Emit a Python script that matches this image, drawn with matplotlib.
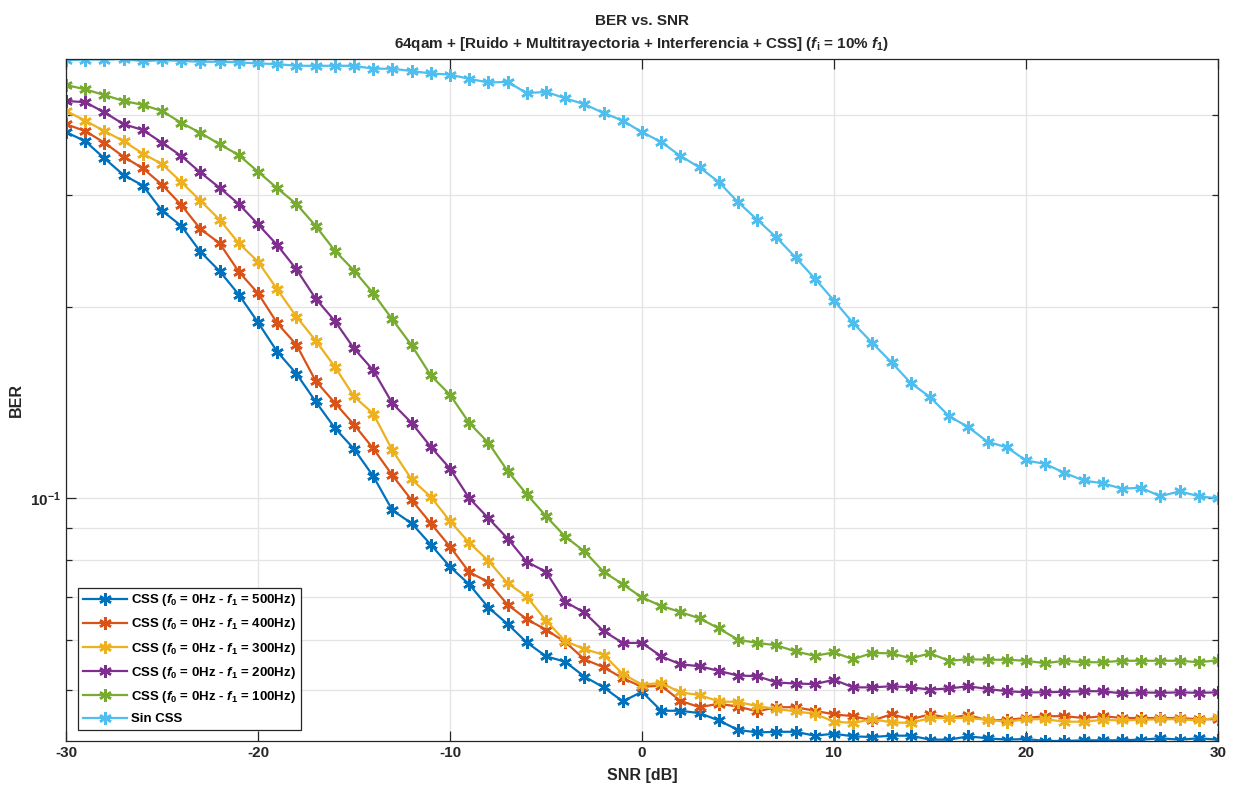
import matplotlib.pyplot as plt
import numpy as np
from matplotlib.ticker import FixedLocator, NullFormatter

plt.rcParams['font.family'] = ['Liberation Sans', 'DejaVu Sans']
plt.rcParams['font.weight'] = 'bold'
plt.rcParams['axes.unicode_minus'] = False
plt.rcParams['mathtext.fontset'] = 'custom'
plt.rcParams['mathtext.rm'] = 'Liberation Sans:bold'
plt.rcParams['mathtext.it'] = 'Liberation Sans:italic:bold'
plt.rcParams['mathtext.bf'] = 'Liberation Sans:bold'

# SNR axis
snr = np.arange(-30, 31)

# BER curves
ber_500 = [0.376, 0.364, 0.342, 0.322, 0.310, 0.283, 0.268, 0.244, 0.2275, 0.209,
           0.189, 0.170, 0.157, 0.142, 0.129, 0.1196, 0.1084, 0.0958, 0.0914, 0.0846,
           0.0781, 0.0733, 0.0674, 0.0635, 0.0594, 0.0565, 0.0554, 0.0525, 0.0505, 0.0480,
           0.0497, 0.0464, 0.0464, 0.0460, 0.0448, 0.0433, 0.0429, 0.0430, 0.0430, 0.0424,
           0.0427, 0.0423, 0.0422, 0.0424, 0.0424, 0.0418, 0.0418, 0.0423, 0.0420, 0.0418,
           0.0419, 0.0416, 0.0416, 0.0417, 0.0417, 0.0417, 0.0418, 0.0420, 0.0418, 0.0420,
           0.0418]
ber_400 = [0.387, 0.3775, 0.362, 0.344, 0.330, 0.311, 0.289, 0.265, 0.2516, 0.227,
           0.210, 0.1885, 0.1743, 0.153, 0.1413, 0.1306, 0.1198, 0.1087, 0.0994, 0.0914,
           0.0840, 0.0766, 0.0739, 0.0681, 0.0646, 0.0622, 0.0595, 0.0559, 0.0543, 0.0522,
           0.0506, 0.0508, 0.0481, 0.0470, 0.0476, 0.0471, 0.0463, 0.0470, 0.0470, 0.0464,
           0.0458, 0.0455, 0.0448, 0.0458, 0.0450, 0.0458, 0.0452, 0.0457, 0.0448, 0.0449,
           0.0452, 0.0455, 0.0455, 0.0452, 0.0455, 0.0452, 0.0452, 0.0452, 0.0452, 0.0450,
           0.0450]
ber_300 = [0.406, 0.392, 0.3775, 0.364, 0.348, 0.335, 0.314, 0.2935, 0.274, 0.2516,
           0.2355, 0.213, 0.193, 0.177, 0.161, 0.1446, 0.1359, 0.1190, 0.1071, 0.1006,
           0.0921, 0.0852, 0.0798, 0.0736, 0.0701, 0.0643, 0.0597, 0.0580, 0.0568, 0.0530,
           0.0510, 0.0513, 0.0496, 0.0491, 0.0480, 0.0479, 0.0472, 0.0467, 0.0463, 0.0459,
           0.0446, 0.0444, 0.0450, 0.0445, 0.0444, 0.0452, 0.0452, 0.0452, 0.0449, 0.0446,
           0.0450, 0.0450, 0.0446, 0.0446, 0.0449, 0.0448, 0.0449, 0.0450, 0.0450, 0.0448,
           0.0453]
ber_200 = [0.421, 0.419, 0.404, 0.387, 0.379, 0.362, 0.345, 0.325, 0.3075, 0.290,
           0.2695, 0.250, 0.229, 0.206, 0.190, 0.172, 0.159, 0.141, 0.1314, 0.1205,
           0.1114, 0.1001, 0.0931, 0.0865, 0.0795, 0.0767, 0.0688, 0.0662, 0.0619, 0.0593,
           0.0593, 0.0565, 0.0549, 0.0545, 0.0536, 0.0527, 0.0526, 0.0514, 0.0512, 0.0511,
           0.0519, 0.0505, 0.0505, 0.0507, 0.0505, 0.0501, 0.0503, 0.0507, 0.0502, 0.0498,
           0.0496, 0.0496, 0.0497, 0.0498, 0.0498, 0.0494, 0.0496, 0.0495, 0.0496, 0.0495,
           0.0496]
ber_100 = [0.446, 0.439, 0.430, 0.421, 0.415, 0.406, 0.389, 0.375, 0.360, 0.346,
           0.326, 0.307, 0.290, 0.268, 0.245, 0.228, 0.210, 0.191, 0.174, 0.156,
           0.1455, 0.1314, 0.1223, 0.1104, 0.1015, 0.0938, 0.0871, 0.0826, 0.0767, 0.0733,
           0.0699, 0.0678, 0.0663, 0.0648, 0.0625, 0.0600, 0.0593, 0.0588, 0.0575, 0.0566,
           0.0573, 0.0559, 0.0572, 0.0571, 0.0561, 0.0571, 0.0556, 0.0559, 0.0558, 0.0558,
           0.0556, 0.0551, 0.0556, 0.0553, 0.0553, 0.0556, 0.0556, 0.0556, 0.0556, 0.0553,
           0.0557]
ber_sin = [0.488, 0.489, 0.489, 0.490, 0.486, 0.488, 0.4865, 0.485, 0.485, 0.484,
           0.482, 0.481, 0.478, 0.478, 0.478, 0.478, 0.473, 0.473, 0.469, 0.465,
           0.463, 0.456, 0.450, 0.451, 0.433, 0.435, 0.425, 0.416, 0.403, 0.392,
           0.376, 0.363, 0.345, 0.331, 0.314, 0.292, 0.274, 0.257, 0.239, 0.2215,
           0.2045, 0.1885, 0.1754, 0.1635, 0.1518, 0.1443, 0.1346, 0.1294, 0.1227, 0.1203,
           0.1147, 0.1133, 0.1097, 0.1067, 0.1056, 0.1036, 0.1039, 0.1008, 0.1026, 0.1008,
           0.1000]

series = [ber_500, ber_400, ber_300, ber_200, ber_100, ber_sin]
labels = [r'CSS ($f_0$ = 0Hz - $f_1$ = 500Hz)',
          r'CSS ($f_0$ = 0Hz - $f_1$ = 400Hz)',
          r'CSS ($f_0$ = 0Hz - $f_1$ = 300Hz)',
          r'CSS ($f_0$ = 0Hz - $f_1$ = 200Hz)',
          r'CSS ($f_0$ = 0Hz - $f_1$ = 100Hz)',
          'Sin CSS']
colors = ['#0072BD', '#D95319', '#EDB120', '#7E2F8E', '#77AC30', '#4DBEEE']

fig = plt.figure(figsize=(12.34, 7.87), dpi=100)
ax = fig.add_axes([0.0535, 0.0585, 0.9335, 0.8666])

for y, lab, c in zip(series, labels, colors):
    ax.semilogy(snr, y, color=c, lw=1.6, marker=(6, 2, 0), ms=9, mew=1.8, label=lab)

ax.set_xlim(-30, 30)
ax.set_ylim(0.0416, 0.49)
ax.set_xticks(np.arange(-30, 31, 10))
ax.yaxis.set_major_locator(FixedLocator([0.1]))
ax.set_yticklabels([r'$10^{-1}$'])
ax.yaxis.set_minor_locator(FixedLocator([0.05, 0.06, 0.07, 0.08, 0.09, 0.2, 0.3, 0.4]))
ax.yaxis.set_minor_formatter(NullFormatter())

ax.grid(True, which='both', color='#e3e3e3', lw=0.9)
ax.set_axisbelow(True)
ax.tick_params(which='both', direction='in', top=True, right=True, colors='#262626',
               labelsize=11, width=0.9)
ax.tick_params(which='major', length=7)
ax.tick_params(which='minor', length=4)
for s in ax.spines.values():
    s.set_color('#262626')
    s.set_linewidth(0.9)

ax.set_xlabel('SNR [dB]', fontsize=11.5, fontweight='bold', color='#262626', labelpad=6)
ax.set_ylabel('BER', fontsize=11.5, fontweight='bold', color='#262626')
ax.yaxis.set_label_coords(-0.037, 0.5)
ax.set_title('BER vs. SNR\n64qam + [Ruido + Multitrayectoria + Interferencia + CSS] ($f_\\mathrm{i}$ = 10% $f_1$)',
             fontsize=11, fontweight='bold', color='#262626', pad=8, linespacing=1.5)

leg = ax.legend(loc='lower left', bbox_to_anchor=(0.0104, 0.016), borderaxespad=0,
                fontsize=9.5, fancybox=False, framealpha=1, edgecolor='#262626',
                handlelength=3.4, handletextpad=0.3, labelspacing=0.62, borderpad=0.35)
leg.get_frame().set_linewidth(0.9)

fig.savefig('out.png', dpi=100)
